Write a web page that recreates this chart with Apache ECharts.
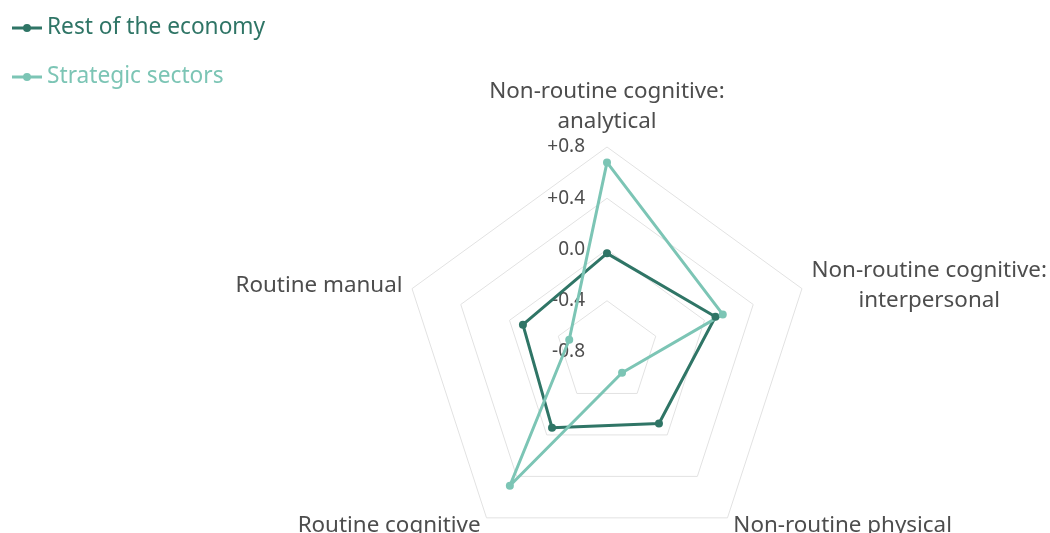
<!DOCTYPE html>
<html>
<head>
<meta charset="utf-8">
<script src="https://cdn.jsdelivr.net/npm/echarts@6/dist/echarts.min.js"></script>
<style>html,body{margin:0;padding:0;background:#fff}#c{width:1050px;height:533px}</style>
</head>
<body>
<div id="c"></div>
<script>
// Indicators in ECharts order (counter-clockwise from top)
const indicators = [
  'Non-routine cognitive:\nanalytical',
  'Routine manual',
  'Routine cognitive',
  'Non-routine physical',
  'Non-routine cognitive:\ninterpersonal'
];
const seriesNames = ['Rest of the economy', 'Strategic sectors'];
const restOfEconomy = [-0.03, -0.11, -0.07, -0.11, 0.09];
const strategicSectors = [0.68, -0.49, 0.49, -0.60, 0.15];
const tickLabels = ['-0.8', '-0.4', '0.0', '+0.4', '+0.8'];
const colors = ['#2f7566', '#7cc5b5'];

const FONT = 'Noto Sans';
const iconPath = 'path://M0 2.6h30v2.8H0z M15 0a4 4 0 1 1 0 8a4 4 0 1 1 0-8z';

const chart = echarts.init(document.getElementById('c'), null, {renderer: 'canvas'});
chart.setOption({
  animation: false,
  legend: {
    orient: 'vertical',
    left: 7,
    top: 8,
    itemWidth: 30,
    itemHeight: 8,
    itemGap: 19,
    itemTextGap: 1,
    icon: iconPath,
    textStyle: {fontFamily: FONT, fontSize: 22.7, lineHeight: 30},
    data: seriesNames.map((n, i) => ({name: n, textStyle: {color: colors[i]}}))
  },
  radar: {
    center: [607, 352],
    radius: 205,
    splitNumber: 4,
    startAngle: 90,
    shape: 'polygon',
    axisNameGap: 10,
    axisName: {
      color: '#4d4d4d',
      fontFamily: FONT,
      fontSize: 22.4,
      lineHeight: 30,
      formatter: function (name) {
        return name.split('\n').map(l => '{c|' + l + '}').join('\n');
      },
      rich: {c: {align: 'center', fontFamily: FONT, fontSize: 22.4, lineHeight: 30, color: '#4d4d4d'}}
    },
    splitLine: {lineStyle: {color: '#e2e2e2', width: 1}},
    splitArea: {show: false},
    axisLine: {show: false},
    axisTick: {show: false},
    axisLabel: {show: false},
    indicator: indicators.map((n, i) => {
      const o = {name: n, min: -0.8, max: 0.8};
      if (i === 0) {
        o.axisLabel = {
          show: true,
          margin: 22,
          color: '#4d4d4d',
          fontFamily: FONT,
          fontSize: 19,
          formatter: function (v) {
            const idx = Math.round((v + 0.8) / 0.4);
            return tickLabels[idx];
          }
        };
      }
      return o;
    })
  },
  series: [{
    type: 'radar',
    symbol: 'circle',
    symbolSize: 8,
    data: [
      {name: seriesNames[0], value: restOfEconomy,
        lineStyle: {color: colors[0], width: 3}, itemStyle: {color: colors[0]}},
      {name: seriesNames[1], value: strategicSectors,
        lineStyle: {color: colors[1], width: 3}, itemStyle: {color: colors[1]}}
    ]
  }]
});
</script>
</body>
</html>
